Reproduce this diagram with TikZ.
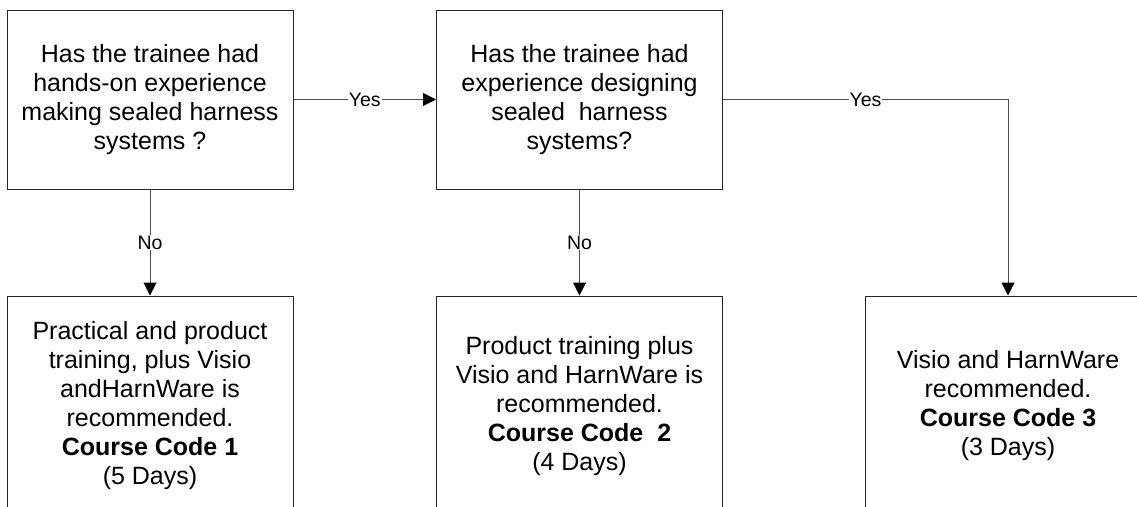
\documentclass[tikz,border=0pt]{standalone}
\usepackage{fontspec}
\setmainfont{Liberation Sans}
\usetikzlibrary{arrows.meta}

\begin{document}
\begin{tikzpicture}[x=1pt,y=-1pt,
  box/.style={draw=black!85, line width=1pt, minimum width=286pt, align=center,
              font=\fontsize{25}{29}\selectfont, inner sep=0pt},
  question/.style={box, minimum height=179pt},
  outcome/.style={box, minimum height=220pt},
  link/.style={draw=black!70, line width=1pt,
               -{Triangle[width=13pt,length=13pt,fill=black,color=black]}},
  lbl/.style={fill=white, font=\fontsize{19.5}{22}\selectfont, inner sep=1pt}]
\useasboundingbox (0,0) rectangle (1137,506);
\clip (0,0) rectangle (1137,506);

% decision boxes
\node[question] (q1) at (150,99.5) {Has the trainee had\\hands-on experience\\making sealed harness\\systems ?};
\node[question] (q2) at (579.5,99.5) {Has the trainee had\\experience designing\\sealed\ \ harness\\systems?};

% recommended courses (open at the lower edge)
\node[outcome] (r1) at (150,406) {Practical and product\\training, plus Visio\\andHarnWare is\\recommended.\\\textbf{Course Code 1}\\(5 Days)};
\node[outcome] (r2) at (579.5,406) {Product training plus\\Visio and HarnWare is\\recommended.\\\textbf{Course Code\ \ 2}\\(4 Days)};
\node[outcome] (r3) at (1008,406) {Visio and HarnWare\\recommended.\\\textbf{Course Code 3}\\(3 Days)};

% connectors
\draw[link] (q1.east) -- node[lbl] {Yes} (q2.west);
\draw[link] (q2.east) -| node[lbl, pos=0.25] {Yes} (r3.north);
\draw[link] (q1.south) -- node[lbl] {No} (r1.north);
\draw[link] (q2.south) -- node[lbl] {No} (r2.north);
\end{tikzpicture}
\end{document}
